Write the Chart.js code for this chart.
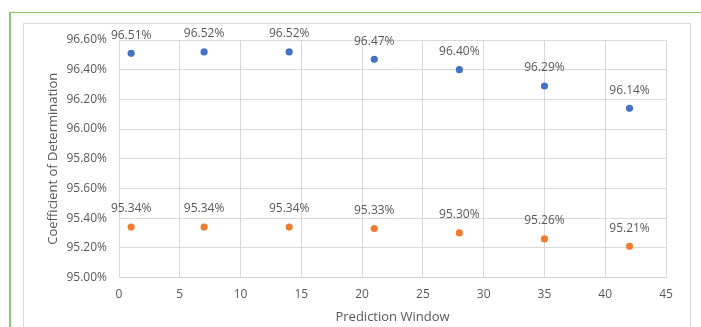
<!DOCTYPE html>
<html>
<head>
<meta charset="utf-8">
<script src="https://cdn.jsdelivr.net/npm/chart.js@4"></script>
<style>
  html, body { margin: 0; padding: 0; background: #ffffff; overflow: hidden; }
  #wrap { position: relative; width: 701px; height: 327px; }
  #frame { position: absolute; left: 9px; top: 12px; width: 720px; height: 340px;
           border-left: 2px solid #8cc76a; border-top: 1px solid #8cc76a; box-sizing: border-box; }
  #panel { position: absolute; left: 23px; top: 23px; width: 668px; height: 340px;
           border: 1px solid #d9d9d9; box-sizing: border-box; background: #ffffff; }
  canvas { position: absolute; left: 0; top: 0; }
</style>
</head>
<body>
<div id="wrap">
  <div id="frame"></div>
  <div id="panel"></div>
  <canvas id="chart" width="701" height="327"></canvas>
</div>
<script>
// Prediction window (days) and coefficient of determination (%) per series
const windows = [1, 7, 14, 21, 28, 35, 42];
const seriesUpper = [96.51, 96.52, 96.52, 96.47, 96.40, 96.29, 96.14];
const seriesLower = [95.34, 95.34, 95.34, 95.33, 95.30, 95.26, 95.21];
const yTickMin = 95.0, yTickMax = 96.6, yTickStep = 0.2;
const xTickMin = 0, xTickMax = 45, xTickStep = 5;

const toPoints = vals => windows.map((w, i) => ({ x: w, y: vals[i] }));

const FONT = '"Open Sans", "Liberation Sans", sans-serif';
const TEXT = '#595959';

// Writes each point's value as a percentage above the marker
const valueLabels = {
  id: 'valueLabels',
  afterDatasetsDraw(chart) {
    const ctx = chart.ctx;
    ctx.save();
    ctx.font = '12px ' + FONT;
    ctx.fillStyle = TEXT;
    ctx.textAlign = 'center';
    ctx.textBaseline = 'middle';
    chart.data.datasets.forEach((ds, di) => {
      const meta = chart.getDatasetMeta(di);
      meta.data.forEach((el, i) => {
        ctx.fillText(ds.data[i].y.toFixed(2) + '%', el.x, el.y - 18);
      });
    });
    ctx.restore();
  }
};

new Chart(document.getElementById('chart'), {
  type: 'scatter',
  data: {
    datasets: [
      { label: 'Upper', data: toPoints(seriesUpper), backgroundColor: '#4472C4', borderColor: '#4472C4',
        pointRadius: 3.6, borderWidth: 0 },
      { label: 'Lower', data: toPoints(seriesLower), backgroundColor: '#ED7D31', borderColor: '#ED7D31',
        pointRadius: 3.6, borderWidth: 0 }
    ]
  },
  options: {
    responsive: false,
    animation: false,
    events: [],
    layout: { padding: { left: 41, top: 40, right: 35, bottom: 0 } },
    plugins: { legend: { display: false }, tooltip: { enabled: false } },
    scales: {
      x: {
        type: 'linear',
        min: xTickMin, max: xTickMax,
        ticks: { stepSize: xTickStep, color: TEXT, font: { family: FONT, size: 12 }, padding: 10 },
        grid: { color: '#d9d9d9', lineWidth: 1, drawTicks: false },
        border: { color: '#d0d0d0', width: 1 },
        title: { display: true, text: 'Prediction Window', color: TEXT,
                 font: { family: FONT, size: 13 }, padding: { top: 2, bottom: 2 } },
        afterFit(scale) { scale.height = 49.5; }
      },
      y: {
        type: 'linear',
        min: yTickMin, max: yTickMax,
        ticks: { stepSize: yTickStep, color: TEXT, font: { family: FONT, size: 12 }, padding: 12,
                 callback: v => Number(v).toFixed(2) + '%' },
        grid: { color: '#d9d9d9', lineWidth: 1, drawTicks: false },
        border: { display: false },
        title: { display: true, text: 'Coefficient of Determination', color: TEXT,
                 font: { family: FONT, size: 13 }, padding: { top: 4, bottom: 4 } },
        afterFit(scale) { scale.width = 78; }
      }
    }
  },
  plugins: [valueLabels]
});
</script>
</body>
</html>
